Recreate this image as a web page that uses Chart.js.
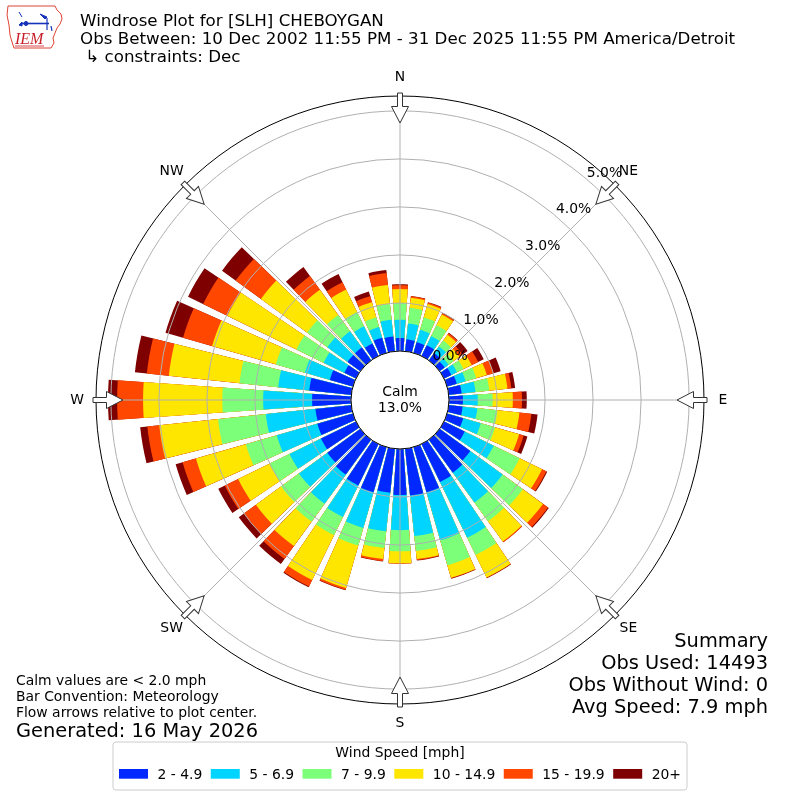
<!DOCTYPE html>
<html>
<head>
<meta charset="utf-8">
<title>Windrose Plot for [SLH] CHEBOYGAN</title>
<script src="https://cdn.jsdelivr.net/npm/chart.js@4.4.1/dist/chart.umd.min.js"></script>
<style>
  html, body { margin: 0; padding: 0; background: #fff; }
  #wrap { position: relative; width: 800px; height: 800px; }
  #wrap canvas { display: block; }
  #logo { position: absolute; left: 0; top: 0; }
</style>
</head>
<body>
<div id="wrap">
  <canvas id="windrose" width="800" height="800"></canvas>
  <svg id="logo" width="80" height="55" viewBox="0 0 80 55">
    <path d="M8 6 L55 6 L57 10 L61 14 L62 19 L60 24 L57 28 L55 33 L53 38 L54 43 L51 48 L14 48 L12 42 L10 35 L9 25 L7 15 Z"
          fill="#fff" stroke="#d43" stroke-width="1"/>
    <g stroke="#1533b8" fill="#1533b8">
      <line x1="19" y1="12" x2="22" y2="17" stroke-width="1"/>
      <line x1="22" y1="23.5" x2="49" y2="23.5" stroke-width="1.6"/>
      <circle cx="26" cy="23.5" r="2"/>
      <path d="M19 25 L22 22 L22 26 Z"/>
      <path d="M40 14 L47 17 L45 19 Z"/>
      <line x1="47" y1="18" x2="47" y2="30" stroke-width="1.2"/>
      <line x1="51" y1="26" x2="52" y2="31" stroke-width="1.2"/>
    </g>
    <text x="15" y="44" font-family="Liberation Serif, DejaVu Serif, serif" font-style="italic"
          font-size="16" fill="#c8202a">IEM</text>
    <line x1="15" y1="46" x2="44" y2="46" stroke="#c8202a" stroke-width="0.8"/>
  </svg>
</div>
<script>
// Wind direction bins (degrees, meteorological "from")
const directions = [0, 10, 20, 30, 40, 50, 60, 70, 80, 90, 100, 110, 120, 130, 140, 150, 160, 170,
  180, 190, 200, 210, 220, 230, 240, 250, 260, 270, 280, 290, 300, 310, 320, 330, 340, 350];

const speedBins = ["2 - 4.9", "5 - 6.9", "7 - 9.9", "10 - 14.9", "15 - 19.9", "20+"];
const speedColors = ["rgb(0, 40, 255)", "rgb(0, 212, 255)", "rgb(124, 255, 121)",
  "rgb(255, 230, 0)", "rgb(255, 71, 0)", "rgb(127, 0, 0)"];

// Percent of observations per direction, one list per speed bin
const speed2to5 = [0.27, 0.25, 0.23, 0.25, 0.19, 0.13, 0.17, 0.21, 0.27, 0.29, 0.29, 0.35, 0.48, 0.79, 0.85, 0.88, 0.98, 0.98,
  0.96, 0.92, 0.98, 0.96, 0.90, 0.85, 0.81, 0.77, 0.75, 0.81, 0.88, 0.50, 0.27, 0.33, 0.33, 0.29, 0.33, 0.31];
const speed5to7 = [0.38, 0.33, 0.27, 0.21, 0.17, 0.10, 0.13, 0.19, 0.29, 0.31, 0.31, 0.38, 0.67, 0.83, 0.77, 1.29, 1.04, 0.85,
  0.73, 0.81, 0.77, 0.73, 0.75, 0.73, 0.73, 0.88, 1.04, 1.02, 0.65, 0.54, 0.48, 0.52, 0.42, 0.40, 0.23, 0.35];
const speed7to10 = [0.35, 0.33, 0.27, 0.25, 0.15, 0.13, 0.15, 0.23, 0.29, 0.31, 0.42, 0.31, 0.60, 0.52, 0.48, 0.40, 0.54, 0.31,
  0.44, 0.35, 0.38, 0.42, 0.46, 0.46, 0.46, 0.67, 1.00, 0.85, 0.81, 0.63, 0.63, 0.52, 0.42, 0.33, 0.21, 0.33];
const speed10to15 = [0.29, 0.21, 0.29, 0.25, 0.15, 0.15, 0.19, 0.23, 0.38, 0.42, 0.46, 0.52, 0.52, 0.52, 0.52, 0.52, 0.27, 0.17,
  0.25, 0.23, 0.92, 1.04, 0.63, 0.65, 0.73, 1.08, 1.23, 1.65, 1.48, 1.38, 1.60, 1.19, 0.65, 0.52, 0.33, 0.40];
const speed15to20 = [0.08, 0.03, 0.03, 0.03, 0.04, 0.08, 0.15, 0.15, 0.08, 0.19, 0.25, 0.10, 0.10, 0.13, 0.02, 0.01, 0.01, 0.02,
  0.01, 0.04, 0.04, 0.15, 0.33, 0.31, 0.31, 0.29, 0.25, 0.54, 0.46, 0.63, 0.56, 0.65, 0.35, 0.17, 0.13, 0.25];
const speed20plus = [0.02, 0.01, 0.01, 0.01, 0.01, 0.13, 0.13, 0.15, 0.08, 0.10, 0.13, 0.08, 0.02, 0.02, 0.00, 0.01, 0.01, 0.01,
  0.00, 0.01, 0.01, 0.02, 0.13, 0.13, 0.15, 0.15, 0.15, 0.19, 0.25, 0.38, 0.35, 0.35, 0.23, 0.19, 0.10, 0.06];

const speedSeries = [speed2to5, speed5to7, speed7to10, speed10to15, speed15to20, speed20plus];

const radialTicks = [0, 1, 2, 3, 4, 5];
const compassLabels = ["N", "NE", "E", "SE", "S", "SW", "W", "NW"];
const calmPercent = 13.0;

const titleLines = [
  "Windrose Plot for [SLH] CHEBOYGAN",
  "Obs Between: 10 Dec 2002 11:55 PM - 31 Dec 2025 11:55 PM America/Detroit",
  " \u21b3 constraints: Dec"
];
const noteLines = ["Calm values are < 2.0 mph", "Bar Convention: Meteorology", "Flow arrows relative to plot center."];
const generatedText = "Generated: 16 May 2026";
const summaryLines = ["Summary", "Obs Used: 14493", "Obs Without Wind: 0", "Avg Speed: 7.9 mph"];
const legendTitle = "Wind Speed [mph]";

// radial axis range: 0% sits on the calm circle, outer ring a bit beyond 5%
const R_MIN = -1.02;
const R_MAX = 5.31;
const BAR_WIDTH = 8;                // degrees per bar
const GAP_WIDTH = 10 - BAR_WIDTH;   // degrees between bars
const FONT = '"DejaVu Sans", "Liberation Sans", sans-serif';
const SMALL = 13.9, MEDIUM = 16.7, LARGE = 19.4;

// Arc slots: N bar split in two halves so that it is centred on north.
const slots = [{ dir: 0, angle: BAR_WIDTH / 2 }];
for (let d = 1; d < directions.length; d++) {
  slots.push({ dir: null, angle: GAP_WIDTH });
  slots.push({ dir: d, angle: BAR_WIDTH });
}
slots.push({ dir: null, angle: GAP_WIDTH });
slots.push({ dir: 0, angle: BAR_WIDTH / 2 });

// stacked totals: each dataset reaches the sum of all slower bins
const cumulative = speedSeries.map((_, k) =>
  directions.map((_, d) => speedSeries.slice(0, k + 1).reduce((sum, s) => sum + s[d], 0))
);

function polar(cx, cy, r, deg) {
  const a = (deg * Math.PI) / 180;
  return { x: cx + r * Math.sin(a), y: cy - r * Math.cos(a) };
}

const windroseDecor = {
  id: "windroseDecor",
  afterDraw(chart) {
    const { ctx } = chart;
    const scale = chart.scales.r;
    const cx = scale.xCenter;
    const cy = scale.yCenter;
    const R = scale.drawingArea;
    const calmR = scale.getDistanceFromCenterForValue(0);

    ctx.save();

    // calm circle
    ctx.beginPath();
    ctx.arc(cx, cy, calmR, 0, Math.PI * 2);
    ctx.fillStyle = "#fff";
    ctx.fill();
    ctx.lineWidth = 1;
    ctx.strokeStyle = "#000";
    ctx.stroke();
    ctx.fillStyle = "#000";
    ctx.font = `${SMALL}px ${FONT}`;
    ctx.textAlign = "center";
    ctx.textBaseline = "middle";
    ctx.fillText("Calm", cx, cy - 8);
    ctx.fillText(`${calmPercent.toFixed(1)}%`, cx, cy + 8);

    // radial tick labels
    ctx.textAlign = "left";
    ctx.textBaseline = "alphabetic";
    radialTicks.forEach((v) => {
      const p = polar(cx, cy, scale.getDistanceFromCenterForValue(v), 40);
      ctx.fillText(`${v.toFixed(1)}%`, p.x + 1, p.y - 2);
    });

    // compass labels
    ctx.textAlign = "center";
    ctx.textBaseline = "middle";
    compassLabels.forEach((label, i) => {
      const p = polar(cx, cy, R + 19, i * 45);
      ctx.fillText(label, p.x, p.y);
    });

    // flow arrows pointing to the centre
    compassLabels.forEach((_, i) => {
      ctx.save();
      ctx.translate(cx, cy);
      ctx.rotate((i * 45 * Math.PI) / 180);
      const tail = -(R + 3), neck = -(R - 10.5), tip = -(R - 27);
      ctx.beginPath();
      ctx.moveTo(-2.5, tail);
      ctx.lineTo(2.5, tail);
      ctx.lineTo(2.5, neck);
      ctx.lineTo(8.5, neck);
      ctx.lineTo(0, tip);
      ctx.lineTo(-8.5, neck);
      ctx.lineTo(-2.5, neck);
      ctx.closePath();
      ctx.fillStyle = "#fff";
      ctx.fill();
      ctx.strokeStyle = "#333";
      ctx.lineWidth = 1;
      ctx.stroke();
      ctx.restore();
    });

    // header
    ctx.fillStyle = "#000";
    ctx.textAlign = "left";
    ctx.textBaseline = "alphabetic";
    ctx.font = `${MEDIUM}px ${FONT}`;
    titleLines.forEach((line, i) => ctx.fillText(line, 80, 26 + i * 18));

    // notes bottom left
    ctx.font = `${SMALL}px ${FONT}`;
    noteLines.forEach((line, i) => ctx.fillText(line, 16, 685 + i * 16));
    ctx.font = `${LARGE}px ${FONT}`;
    ctx.fillText(generatedText, 16, 737);

    // summary bottom right
    ctx.textAlign = "right";
    summaryLines.forEach((line, i) => ctx.fillText(line, 768, 647 + i * 22));

    // legend
    ctx.font = `${SMALL}px ${FONT}`;
    const handle = 29, pad = 9.5, colGap = 8.5;
    const widths = speedBins.map((t) => ctx.measureText(t).width);
    const total = widths.reduce((a, w) => a + handle + pad + w, 0) + colGap * (speedBins.length - 1);
    let x = 400 - total / 2;
    const boxL = x - 6, boxR = x + total + 6, boxT = 742, boxB = 790;
    ctx.beginPath();
    ctx.roundRect(boxL, boxT, boxR - boxL, boxB - boxT, 3);
    ctx.fillStyle = "rgba(255,255,255,0.8)";
    ctx.fill();
    ctx.strokeStyle = "#cccccc";
    ctx.lineWidth = 1;
    ctx.stroke();
    ctx.fillStyle = "#000";
    ctx.textAlign = "center";
    ctx.fillText(legendTitle, 400, 757);
    ctx.textAlign = "left";
    speedBins.forEach((label, k) => {
      ctx.fillStyle = speedColors[k];
      ctx.fillRect(x, 769, handle, 9.7);
      ctx.fillStyle = "#000";
      ctx.fillText(label, x + handle + pad, 779);
      x += handle + pad + widths[k] + colGap;
    });

    ctx.restore();
  }
};

new Chart(document.getElementById("windrose"), {
  type: "polarArea",
  data: {
    labels: compassLabels,
    datasets: speedBins.map((label, k) => ({
      label,
      data: slots.map((slot) => (slot.dir === null ? 0 : cumulative[k][slot.dir])),
      backgroundColor: slots.map((slot) => (slot.dir === null ? "rgba(0,0,0,0)" : speedColors[k])),
      angle: (c) => slots[c.dataIndex].angle,
      borderWidth: 0
    }))
  },
  options: {
    responsive: false,
    devicePixelRatio: 1,
    animation: false,
    events: [],
    layout: { padding: { top: 96, bottom: 96, left: 96, right: 96 } },
    plugins: {
      legend: { display: false },
      tooltip: { enabled: false }
    },
    scales: {
      r: {
        min: R_MIN,
        max: R_MAX,
        startAngle: 0,
        beginAtZero: false,
        afterBuildTicks: (scale) => {
          scale.ticks = [...radialTicks, R_MAX].map((value) => ({ value }));
        },
        ticks: { display: false },
        pointLabels: { display: false },
        angleLines: { display: true, color: "#b0b0b0", lineWidth: 1 },
        grid: {
          circular: true,
          z: 1,
          lineWidth: 1,
          color: (c) => (c.tick && c.tick.value >= R_MAX - 1e-6 ? "#000" : "#b0b0b0")
        }
      }
    }
  },
  plugins: [windroseDecor]
});
</script>
</body>
</html>
